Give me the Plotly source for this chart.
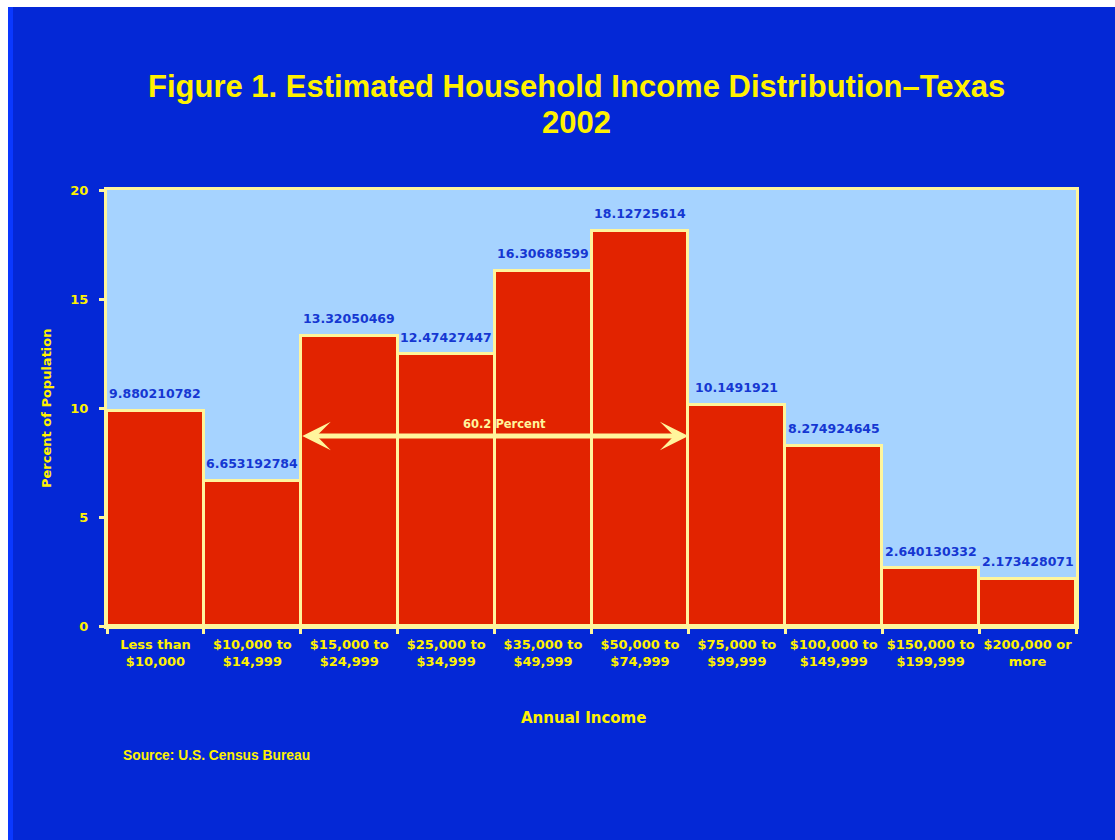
import plotly.graph_objects as go

# ---- data ----
categories = ["Less than<br>$10,000", "$10,000 to<br>$14,999", "$15,000 to<br>$24,999",
              "$25,000 to<br>$34,999", "$35,000 to<br>$49,999", "$50,000 to<br>$74,999",
              "$75,000 to<br>$99,999", "$100,000 to<br>$149,999", "$150,000 to<br>$199,999",
              "$200,000 or<br>more"]
percents = [9.880210782, 6.653192784, 13.32050469, 12.47427447, 16.30688599,
            18.12725614, 10.1491921, 8.274924645, 2.640130332, 2.173428071]
labels = ["9.880210782", "6.653192784", "13.32050469", "12.47427447", "16.30688599",
          "18.12725614", "10.1491921", "8.274924645", "2.640130332", "2.173428071"]
y_ticks = [0, 5, 10, 15, 20]
arrow_from_index = 1.5
arrow_to_index = 5.5
arrow_level = 8.72
arrow_label = "60.2 Percent"

BLUE_BG = "#0428D6"
PLOT_BG = "#A6D3FF"
RED = "#E22300"
PALE = "#FFF59C"
YELLOW = "#FFF100"
LABEL_BLUE = "#1537D2"

W, H = 1115, 840
L, R, T, B = 107, 39, 190, 214
PW, PH = W - L - R, H - T - B


def px_x(p):
    return (p - L) / PW


def px_y(p):
    return 1 - (p - T) / PH


fig = go.Figure()
fig.add_trace(go.Bar(
    x=categories, y=percents,
    marker=dict(color=RED, line=dict(color=PALE, width=3)),
    width=1, showlegend=False, hoverinfo="skip",
))

annotations = []
for i, (v, lab) in enumerate(zip(percents, labels)):
    annotations.append(dict(x=i, y=v, xref="x", yref="y", text="<b>%s</b>" % lab, showarrow=False,
                            yanchor="middle", yshift=17,
                            font=dict(family="DejaVu Sans", size=12.5, color=LABEL_BLUE)))

# double-headed arrow
annotations.append(dict(x=arrow_to_index, y=arrow_level, ax=arrow_from_index, ay=arrow_level,
                        xref="x", yref="y", axref="x", ayref="y", text="",
                        showarrow=True, arrowside="end+start", arrowhead=3, startarrowhead=3,
                        arrowsize=0.95, startarrowsize=0.95, arrowwidth=5, arrowcolor=PALE,
                        standoff=0, startstandoff=0))
annotations.append(dict(x=3.6, y=arrow_level, xref="x", yref="y", text="<b>%s</b>" % arrow_label,
                        showarrow=False, yanchor="middle", yshift=12,
                        font=dict(family="DejaVu Sans", size=11.5, color=PALE)))

# titles
annotations.append(dict(x=px_x(576), y=px_y(86), xref="paper", yref="paper",
                        text="<b>Figure 1. Estimated Household Income Distribution\u2013Texas</b>",
                        showarrow=False, xanchor="center", yanchor="middle",
                        font=dict(family="Liberation Sans", size=31, color=YELLOW)))
annotations.append(dict(x=px_x(576), y=px_y(123), xref="paper", yref="paper",
                        text="<b>2002</b>", showarrow=False, xanchor="center", yanchor="middle",
                        font=dict(family="Liberation Sans", size=31, color=YELLOW)))
annotations.append(dict(x=px_x(46), y=0.5, xref="paper", yref="paper",
                        text="<b>Percent of Population</b>", textangle=-90, showarrow=False,
                        xanchor="center", yanchor="middle",
                        font=dict(family="DejaVu Sans", size=13, color=YELLOW)))
annotations.append(dict(x=px_x(583), y=px_y(718), xref="paper", yref="paper",
                        text="<b>Annual Income</b>", showarrow=False,
                        xanchor="center", yanchor="middle",
                        font=dict(family="DejaVu Sans", size=15, color=YELLOW)))
annotations.append(dict(x=px_x(121), y=px_y(755), xref="paper", yref="paper",
                        text="<b>Source: U.S. Census Bureau</b>", showarrow=False,
                        xanchor="left", yanchor="middle",
                        font=dict(family="Liberation Sans", size=13.8, color=YELLOW)))

shapes = [
    dict(type="rect", xref="paper", yref="paper", x0=px_x(0), x1=px_x(8), y0=px_y(840), y1=px_y(0),
         fillcolor="white", line=dict(width=0), layer="above"),
    dict(type="rect", xref="paper", yref="paper", x0=px_x(0), x1=px_x(1115), y0=px_y(7), y1=px_y(0),
         fillcolor="white", line=dict(width=0), layer="above"),
    dict(type="rect", xref="paper", yref="paper", x0=px_x(8), x1=px_x(13), y0=px_y(840), y1=px_y(7),
         fillcolor="#0A38FF", line=dict(width=0), layer="above"),
]

fig.update_layout(
    width=W, height=H,
    margin=dict(l=L, r=R, t=T, b=B, pad=0),
    paper_bgcolor=BLUE_BG, plot_bgcolor=PLOT_BG,
    bargap=0, showlegend=False,
    annotations=annotations, shapes=shapes,
    xaxis=dict(type="category", tickson="boundaries", ticks="outside", ticklen=5, tickwidth=3,
               tickcolor=PALE, showline=True, linecolor=PALE, linewidth=3, mirror=True,
               showgrid=False, range=[-0.5, 9.5], ticklabelstandoff=4,
               tickfont=dict(family="DejaVu Sans", size=13, color=YELLOW), tickangle=0),
    yaxis=dict(range=[0, 20], tickvals=y_ticks, ticks="outside", ticklen=5, tickwidth=3,
               tickcolor=PALE, showline=True, linecolor=PALE, linewidth=3, mirror=True,
               showgrid=False, zeroline=False, ticklabelstandoff=8,
               tickfont=dict(family="DejaVu Sans", size=13, color=YELLOW)),
)

# bold tick labels
fig.update_xaxes(ticktext=["<b>%s</b>" % c for c in categories], tickvals=categories)
fig.update_yaxes(ticktext=["<b>%d</b>" % v for v in y_ticks])

fig.write_html("out.html")
